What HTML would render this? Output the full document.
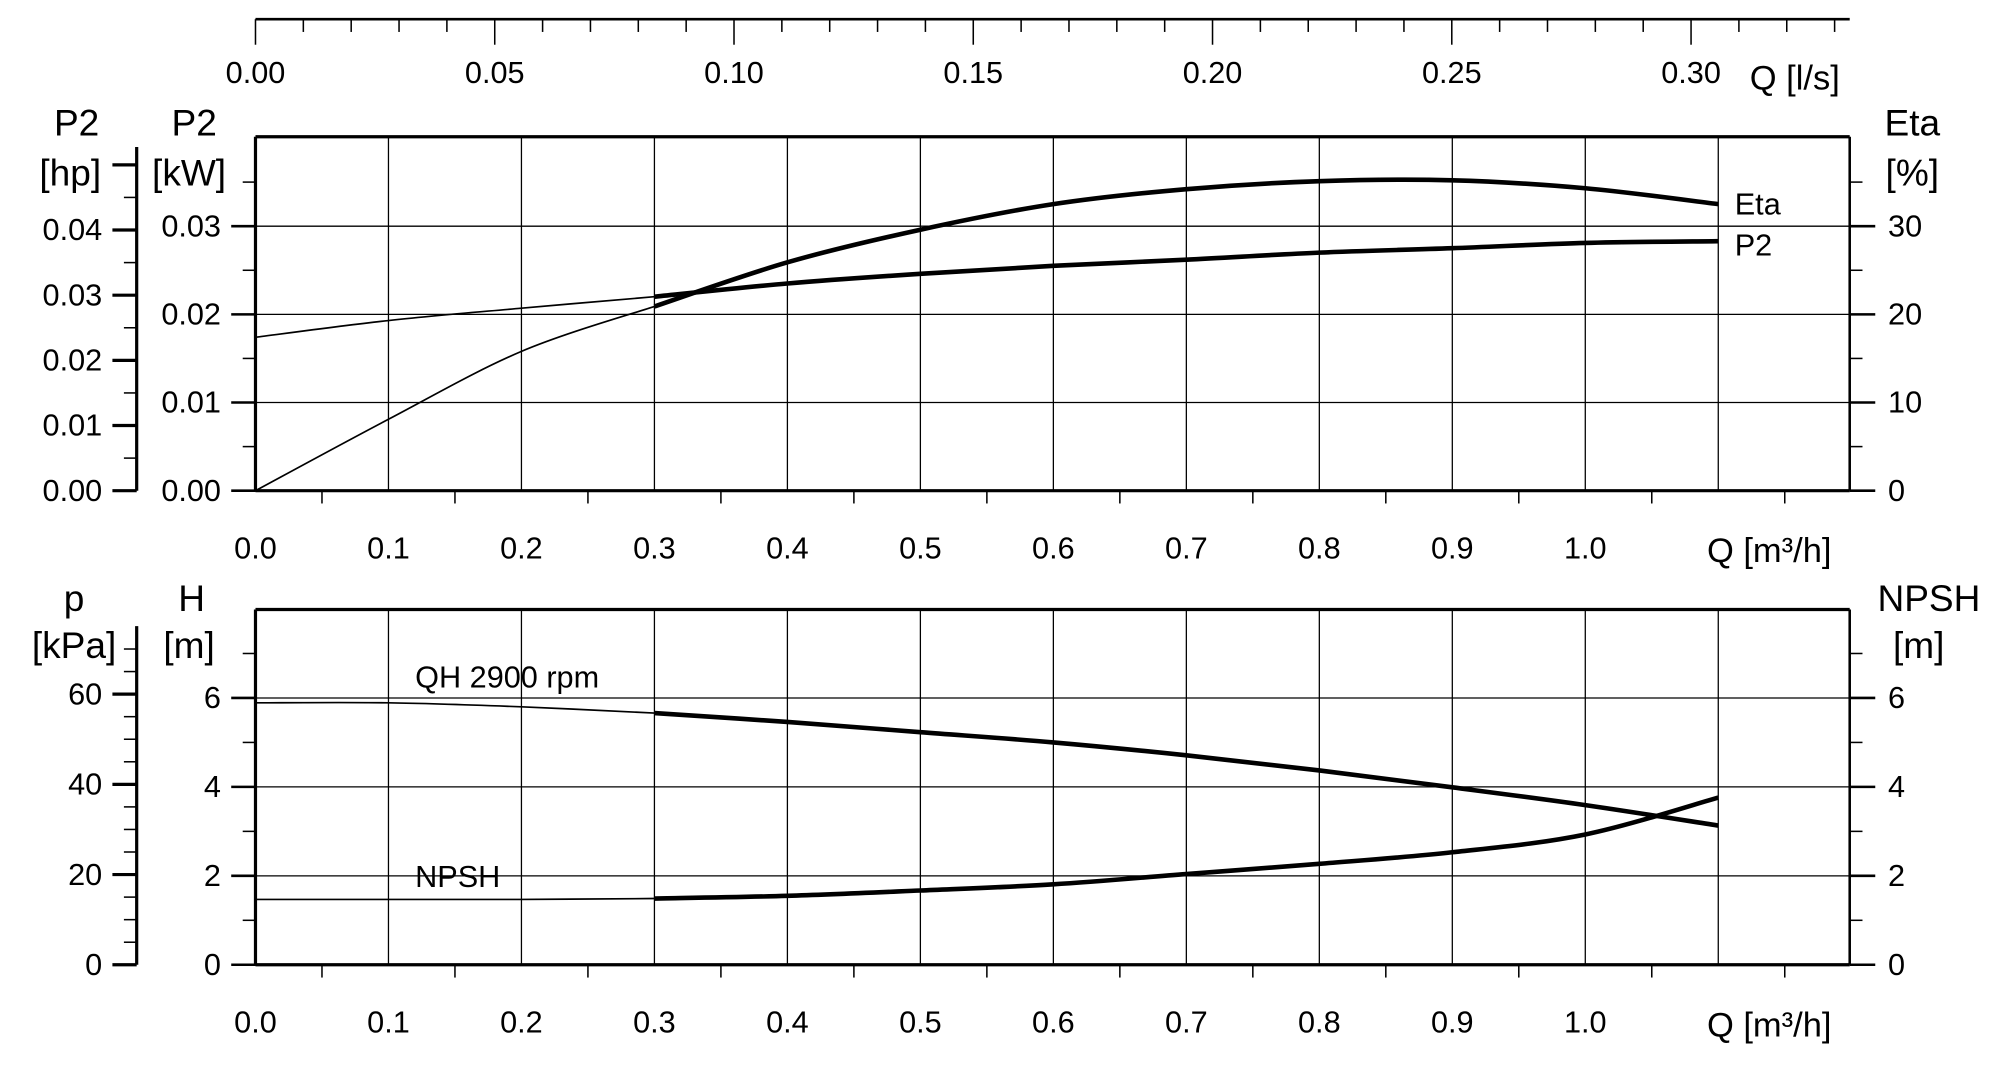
<!DOCTYPE html>
<html><head><meta charset="utf-8"><style>
html,body{margin:0;padding:0;background:#fff;}
svg{display:block;}
text{font-family:"Liberation Sans",sans-serif;fill:#000;}
</style></head><body>
<svg id="chart" width="2003" height="1067" viewBox="0 0 1568 835" preserveAspectRatio="none" xmlns="http://www.w3.org/2000/svg"></svg>
<script>
const qValues=[0,0.1,0.2,0.3,0.4,0.5,0.6,0.7,0.8,0.9,1.0,1.1];
const etaValues=[0,8.1,15.8,20.9,25.9,29.6,32.5,34.2,35.1,35.2,34.3,32.5];
const p2Values=[0.0174,0.0193,0.0207,0.0220,0.0235,0.0246,0.0255,0.0262,0.0270,0.0275,0.0281,0.0283];
const qhValues=[5.89,5.89,5.80,5.66,5.46,5.23,5.0,4.71,4.37,3.99,3.59,3.13];
const npshValues=[1.47,1.47,1.47,1.49,1.55,1.67,1.81,2.04,2.27,2.53,2.93,3.76];
const qTicks=["0.0","0.1","0.2","0.3","0.4","0.5","0.6","0.7","0.8","0.9","1.0"];
const lsTicks=["0.00","0.05","0.10","0.15","0.20","0.25","0.30"];
const kwTicks=["0.00","0.01","0.02","0.03"];
const hpTicks=["0.00","0.01","0.02","0.03","0.04"];
const etaTicks=["0","10","20","30"];
const hTicks=["0","2","4","6"];
const kpaTicks=["0","20","40","60"];

const svg=document.getElementById('chart');
const NS='http://www.w3.org/2000/svg';
const X0=200,X1=1448;
const xQ=q=>X0+q*1041;
const xLs=v=>X0+v*3746;
const U_TOP=107,U_BOT=384;
const yKw=v=>U_BOT-v*6900;
const yEta=v=>U_BOT-v*6.9;
const yHp=v=>U_BOT-v*5100;
const L_TOP=477,L_BOT=755;
const yH=v=>L_BOT-v*34.8;
const yKpa=v=>L_BOT-v*3.53;
const FS=24;

function line(x1,y1,x2,y2,w,name){
  const l=document.createElementNS(NS,'line');
  l.setAttribute('x1',x1);l.setAttribute('y1',y1);l.setAttribute('x2',x2);l.setAttribute('y2',y2);
  l.setAttribute('stroke','#000');l.setAttribute('stroke-width',w);
  
  
  svg.appendChild(l);return l;
}
function text(x,y,s,anchor,size,name){
  const t=document.createElementNS(NS,'text');
  t.setAttribute('x',x);t.setAttribute('y',y);t.setAttribute('text-anchor',anchor||'start');
  t.setAttribute('font-size',size||FS);t.textContent=s;
  
  
  svg.appendChild(t);return t;
}
function smoothPath(pts){
  let d='M'+pts[0][0]+','+pts[0][1];
  for(let i=0;i<pts.length-1;i++){
    const p0=pts[Math.max(0,i-1)],p1=pts[i],p2=pts[i+1],p3=pts[Math.min(pts.length-1,i+2)];
    const c1x=p1[0]+(p2[0]-p0[0])/6,c1y=p1[1]+(p2[1]-p0[1])/6;
    const c2x=p2[0]-(p3[0]-p1[0])/6,c2y=p2[1]-(p3[1]-p1[1])/6;
    d+=' C'+c1x+','+c1y+' '+c2x+','+c2y+' '+p2[0]+','+p2[1];
  }
  return d;
}
function curve(vals,yf,name){
  const pts=qValues.map((q,i)=>[xQ(q),yf(vals[i])]);
  const thin=pts.slice(0,4),thick=pts.slice(3);
  const a=document.createElementNS(NS,'path');
  a.setAttribute('d',smoothPath(thin));a.setAttribute('fill','none');a.setAttribute('stroke','#000');a.setAttribute('stroke-width',1.3);
  
  
  svg.appendChild(a);
  const b=document.createElementNS(NS,'path');
  b.setAttribute('d',smoothPath(thick));b.setAttribute('fill','none');b.setAttribute('stroke','#000');b.setAttribute('stroke-width',3.6);
  
  
  svg.appendChild(b);
}

line(X0,15,X1,15,2,'top-q-ls-axis');
for(let i=0;i<=33;i++){const x=xLs(i*0.01);line(x,15,x,i%5===0?35:25,1.2,'ls-tick');}
lsTicks.forEach(s=>text(xLs(parseFloat(s)),65,s,'middle',FS,'ls-tick-label'));
text(1405,70,'Q [l/s]','middle',27,'q-ls-axis-title');

function panel(top,bot,prefix){
  for(let i=1;i<=11;i++){line(xQ(i/10),top,xQ(i/10),bot,1,prefix+'-vgrid');}
  line(X0,top,X1,top,2.5,prefix+'-top-border');
  line(X0,bot,X1,bot,2.5,prefix+'-x-axis');
  line(X0,top,X0,bot,2.5,prefix+'-left-border');
  line(X1,top,X1,bot,2,prefix+'-right-border');
  for(let i=0;i<=24;i++){const x=X0+i*52.05;line(x,bot,x,bot+(i%2===0?0:10),1.2,prefix+'-x-minor-tick');}
  qTicks.forEach(s=>text(xQ(parseFloat(s)),bot+53,s,'middle',FS,prefix+'-x-tick-label'));
  text(1385,bot+56,'Q [m³/h]','middle',27,prefix+'-x-axis-title');
}
panel(U_TOP,U_BOT,'upper');
panel(L_TOP,L_BOT,'lower');

kwTicks.forEach(s=>{const y=yKw(parseFloat(s));
  if(parseFloat(s)>0)line(X0,y,X1,y,1,'upper-hgrid');
  line(181,y,X0,y,2,'kw-tick');line(X1,y,1468,y,2,'eta-tick');
  text(173,y+8,s,'end',FS,'kw-tick-label');});
for(let i=1;i<8;i+=2){const y=yKw(i*0.005);line(190,y,X0,y,1.2,'kw-minor-tick');line(X1,y,1458,y,1.2,'eta-minor-tick');}
etaTicks.forEach(s=>text(1478,yEta(parseFloat(s))+8,s,'start',FS,'eta-tick-label'));
line(107,115,107,U_BOT,2.5,'hp-axis');
for(let i=0;i<=10;i++){const y=yHp(i*0.005);line(i%2?97:88,y,107,y,i%2?1.2:2.5,'hp-tick');}
hpTicks.forEach(s=>text(80,yHp(parseFloat(s))+8,s,'end',FS,'hp-tick-label'));
text(60,106,'P2','middle',29,'hp-axis-title');text(55,145,'[hp]','middle',29,'hp-axis-unit');
text(152,106,'P2','middle',29,'kw-axis-title');text(148,145,'[kW]','middle',29,'kw-axis-unit');
text(1497,106,'Eta','middle',29,'eta-axis-title');text(1497,145,'[%]','middle',29,'eta-axis-unit');

hTicks.forEach(s=>{const y=yH(parseFloat(s));
  if(parseFloat(s)>0)line(X0,y,X1,y,1,'lower-hgrid');
  line(181,y,X0,y,2,'h-tick');line(X1,y,1468,y,2,'npsh-tick');
  text(173,y+8,s,'end',FS,'h-tick-label');text(1478,y+8,s,'start',FS,'npsh-tick-label');});
for(let i=1;i<8;i+=2){const y=yH(i);line(190,y,X0,y,1.2,'h-minor-tick');line(X1,y,1458,y,1.2,'npsh-minor-tick');}
line(107,490,107,L_BOT,2.5,'kpa-axis');
for(let i=0;i<=14;i++){const y=yKpa(i*5);line(i%4?97:88,y,107,y,i%4?1.2:2.5,'kpa-tick');}
kpaTicks.forEach(s=>text(80,yKpa(parseFloat(s))+8,s,'end',FS,'kpa-tick-label'));
text(58,478,'p','middle',29,'p-axis-title');text(58,515,'[kPa]','middle',29,'kpa-axis-unit');
text(150,478,'H','middle',29,'h-axis-title');text(148,515,'[m]','middle',29,'h-axis-unit');
text(1510,478,'NPSH','middle',29,'npsh-axis-title');text(1502,515,'[m]','middle',29,'npsh-axis-unit');

curve(etaValues,yEta,'eta-curve');
curve(p2Values,yKw,'p2-curve');
curve(qhValues,yH,'qh-curve');
curve(npshValues,yH,'npsh-curve');
text(1358,168,'Eta','start',FS,'eta-curve-label');
text(1358,200,'P2','start',FS,'p2-curve-label');
text(325,538,'QH 2900 rpm','start',FS,'qh-curve-label');
text(325,694,'NPSH','start',FS,'npsh-curve-label');
</script>
</body></html>
